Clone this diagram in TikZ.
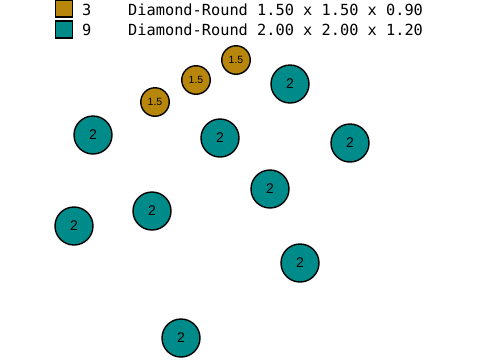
\documentclass[tikz,border=0pt]{standalone}
\usepackage{fontspec}
\setmainfont{Liberation Sans}
\newfontfamily\legfont{DejaVu Sans Mono}
\definecolor{gold}{HTML}{B8860B}
\definecolor{tealc}{HTML}{008B8B}
\begin{document}
\begin{tikzpicture}[x=1pt,y=-1pt,
  small/.style={circle,draw=black,line width=1.4pt,fill=gold,minimum size=28.5pt,inner sep=0pt,font=\fontsize{10.5}{12}\selectfont},
  big/.style={circle,draw=black,line width=1.4pt,fill=tealc,minimum size=38pt,inner sep=0pt,font=\fontsize{14}{16}\selectfont},
  sw/.style={draw=black,line width=1.4pt,minimum size=17pt,inner sep=0pt},
  leg/.style={anchor=base west,inner sep=0pt,font=\legfont\fontsize{15.3}{17}\selectfont}]
\useasboundingbox (0,0) rectangle (480,360);
\node[sw,fill=gold] (s1) at (64,8.5) {};
\node[sw,fill=tealc] (s2) at (64,29.5) {};
\node[leg] (n1) at (82,15) {3};
\node[leg] (n2) at (82,35) {9};
\node[leg] (t1) at (128,15) {Diamond-Round 1.50 x 1.50 x 0.90};
\node[leg] (t2) at (128,35) {Diamond-Round 2.00 x 2.00 x 1.20};
\node[small] (g1) at (236,60) {1.5};
\node[small] (g2) at (196,80) {1.5};
\node[small] (g3) at (155,102) {1.5};
\node[big] (c1) at (290,84) {2};
\node[big] (c2) at (93,135) {2};
\node[big] (c3) at (220,138) {2};
\node[big] (c4) at (350,143) {2};
\node[big] (c5) at (270,189) {2};
\node[big] (c6) at (152,211) {2};
\node[big] (c7) at (74,226) {2};
\node[big] (c8) at (300,263) {2};
\node[big] (c9) at (181,338) {2};
\end{tikzpicture}
\end{document}
